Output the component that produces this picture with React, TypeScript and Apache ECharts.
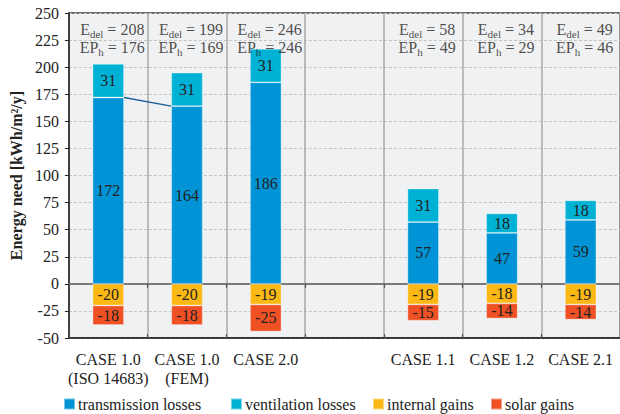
import React, { useEffect, useRef } from "react";
import * as echarts from "echarts";

const categories = [
  "CASE 1.0\n(ISO 14683)",
  "CASE 1.0\n(FEM)",
  "CASE 2.0",
  "",
  "CASE 1.1",
  "CASE 1.2",
  "CASE 2.1",
];

const transmission = [172, 164, 186, null, 57, 47, 59];
const ventilation = [31, 31, 31, null, 31, 18, 18];
const internalGains = [-20, -20, -19, null, -19, -18, -19];
const solarGains = [-18, -18, -25, null, -15, -14, -14];

const eDel = [208, 199, 246, null, 58, 34, 49];
const epH = [176, 169, 246, null, 49, 29, 46];

const seriesNames = [
  "transmission losses",
  "ventilation losses",
  "internal gains",
  "solar gains",
];

const yTicks = { min: -50, max: 250, interval: 25 };

const FONT = "Liberation Serif";
const TEXT = "#222";
const NBSP = "\u00a0";

const COLORS = ["#0094d6", "#00b1d6", "#fcb814", "#ef5125"];
const LEGEND_LEFT = [63, 230, 372, 490];

function barSeries(name: string, data: (number | null)[], color: string) {
  return {
    name,
    type: "bar",
    stack: "energy",
    barWidth: "40%",
    data: data.map((v) => (v === null ? "-" : v)),
    itemStyle: {
      color,
      borderColor: "rgba(255,255,255,0.45)",
      borderWidth: 0.8,
    },
    label: {
      show: true,
      position: "inside",
      color: TEXT,
      fontFamily: FONT,
      fontSize: 16,
      formatter: (p: any) => String(p.value),
    },
  };
}

// one row of the E_del / EP_h block above each case
function annotationRow(
  rows: (number | null)[],
  main: string,
  sub: string,
  distance: number
) {
  const data = rows
    .map((v, i) => (v === null ? null : [i, yTicks.max, v]))
    .filter((d) => d !== null);
  return {
    type: "scatter",
    silent: true,
    symbolSize: 0,
    data,
    label: {
      show: true,
      position: "bottom",
      distance,
      offset: [4, 0],
      formatter: (p: any) =>
        `{m|${main}}{s|${sub}}{m|${NBSP}=${NBSP}${p.value[2]}}`,
      rich: {
        m: {
          fontFamily: FONT,
          fontSize: 16,
          color: TEXT,
          lineHeight: 16,
          padding: [0, 0, 4, 0],
        },
        s: {
          fontFamily: FONT,
          fontSize: 11,
          color: TEXT,
          lineHeight: 11,
          verticalAlign: "bottom",
        },
      },
    },
    z: 6,
  };
}

export default function App() {
  const ref = useRef<HTMLDivElement>(null);

  useEffect(() => {
    document.body.style.margin = "0";
    if (!ref.current) return;
    const chart = echarts.init(ref.current, null, { renderer: "svg" });

    const legends = seriesNames.map((name, i) => ({
      left: LEGEND_LEFT[i],
      top: 396,
      padding: 0,
      itemWidth: 11,
      itemHeight: 11,
      icon: "rect",
      data: [name],
      textStyle: { fontFamily: FONT, fontSize: 16, color: TEXT, padding: [0, 0, 0, -2] },
    }));

    chart.setOption({
      animation: false,
      textStyle: { fontFamily: FONT },
      grid: {
        left: 67,
        right: -8,
        top: 13,
        bottom: 76,
        show: true,
        backgroundColor: "#f0f1f3",
        borderColor: "#3a3a3a",
        borderWidth: 1.5,
      },
      legend: legends,
      xAxis: [
        {
          type: "category",
          data: categories,
          axisLine: { onZero: false, lineStyle: { color: "#222", width: 1.5 } },
          axisTick: { show: false },
          axisLabel: {
            color: TEXT,
            fontFamily: FONT,
            fontSize: 16,
            lineHeight: 19,
            margin: 12,
            interval: 0,
          },
          splitLine: { show: true, lineStyle: { color: "#a8a8a8", width: 1.5 } },
        },
        {
          type: "category",
          data: categories,
          position: "bottom",
          axisLine: { onZero: true, lineStyle: { color: "#7a7a7a", width: 2 } },
          axisTick: { show: true, length: 4, lineStyle: { color: "#555", width: 1.2 } },
          axisLabel: { show: false },
          splitLine: { show: false },
        },
        {
          type: "category",
          data: categories,
          position: "bottom",
          axisLine: { onZero: true, show: false },
          axisTick: { show: true, inside: true, length: 4, lineStyle: { color: "#555", width: 1.2 } },
          axisLabel: { show: false },
          splitLine: { show: false },
        },
      ],
      yAxis: {
        type: "value",
        min: yTicks.min,
        max: yTicks.max,
        interval: yTicks.interval,
        name: "Energy need [kWh/m²/y]",
        nameLocation: "middle",
        nameGap: 42,
        nameTextStyle: {
          fontFamily: FONT,
          fontSize: 16,
          fontWeight: "bold",
          color: TEXT,
        },
        axisLine: { show: true, lineStyle: { color: "#222", width: 1.5 } },
        axisTick: { show: true, length: 4, lineStyle: { color: "#222" } },
        axisLabel: { color: TEXT, fontFamily: FONT, fontSize: 16, margin: 10 },
        splitLine: { lineStyle: { color: "#c4c4c4", type: [3, 2], width: 1 } },
      },
      series: [
        barSeries(seriesNames[0], transmission, COLORS[0]),
        barSeries(seriesNames[1], ventilation, COLORS[1]),
        barSeries(seriesNames[2], internalGains, COLORS[2]),
        barSeries(seriesNames[3], solarGains, COLORS[3]),
        {
          // link between the transmission tops of the two CASE 1.0 bars
          type: "custom",
          silent: true,
          data: [[0, transmission[0], 1, transmission[1]]],
          renderItem: (_params: any, api: any) => {
            const half = api.size([1, 0])[0] * 0.2;
            const a = api.coord([api.value(0), api.value(1)]);
            const b = api.coord([api.value(2), api.value(3)]);
            return {
              type: "line",
              shape: { x1: a[0] + half, y1: a[1], x2: b[0] - half, y2: b[1] },
              style: { stroke: "#1d5f96", lineWidth: 1.3 },
            };
          },
          z: 5,
        },
        annotationRow(eDel, "E", "del", 10),
        annotationRow(epH, "EP", "h", 28),
      ],
    });

    return () => chart.dispose();
  }, []);

  return <div ref={ref} style={{ width: 620, height: 414 }} />;
}
